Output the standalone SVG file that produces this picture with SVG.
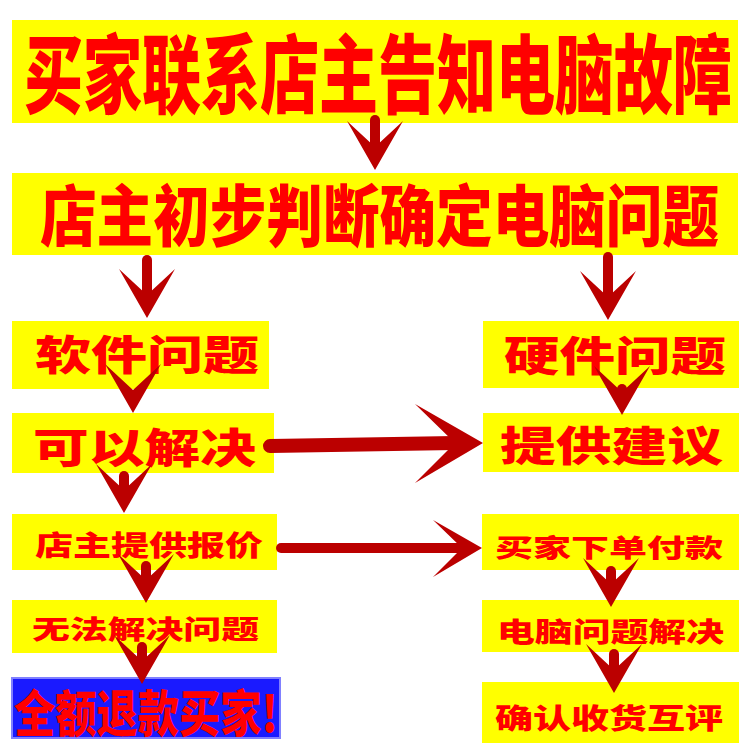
<svg xmlns="http://www.w3.org/2000/svg" width="750" height="750" viewBox="0 0 750 750">
<style>
.box{fill:#ffff00}
.blue{fill:#1a1aff;stroke:#8080ff;stroke-width:2}
.t{font-family:"Noto Sans CJK SC","Noto Sans CJK JP",sans-serif;font-weight:900;fill:#ff0000;dominant-baseline:central}
.ah{fill:#bb0000}
.sh{stroke:#bb0000;stroke-linecap:round;fill:none}
</style>
<defs>
<polygon id="dh" points="-28,-49 0,0 28,-49 0,-23"/>
</defs>
<rect width="750" height="750" fill="#ffffff"/>
<g id="n1"><rect class="box" x="12" y="20" width="726" height="103"/><text class="t" transform="translate(24,69) scale(1,1.47)" x="0" y="0" font-size="59" textLength="708" lengthAdjust="spacingAndGlyphs">买家联系店主告知电脑故障</text></g>
<g id="n2"><rect class="box" x="12" y="173" width="726" height="82"/><text class="t" transform="translate(40,212) scale(1,1.18)" x="0" y="0" font-size="56.6" textLength="679" lengthAdjust="spacingAndGlyphs">店主初步判断确定电脑问题</text></g>
<g id="n3"><rect class="box" x="12" y="321" width="257" height="68"/><text class="t" x="35" y="352" font-size="41" textLength="224" lengthAdjust="spacingAndGlyphs">软件问题</text></g>
<g id="n4"><rect class="box" x="483" y="321" width="256" height="67"/><text class="t" x="504" y="353" font-size="41" textLength="222" lengthAdjust="spacingAndGlyphs">硬件问题</text></g>
<g id="n5"><rect class="box" x="12" y="413" width="262" height="60"/><text class="t" x="33" y="445" font-size="41" textLength="223" lengthAdjust="spacingAndGlyphs">可以解决</text></g>
<g id="n6"><rect class="box" x="483" y="413" width="256" height="59"/><text class="t" x="500" y="443" font-size="41" textLength="223" lengthAdjust="spacingAndGlyphs">提供建议</text></g>
<g id="n7"><rect class="box" x="12" y="514" width="265" height="56"/><text class="t" x="35" y="544" font-size="28" textLength="228" lengthAdjust="spacingAndGlyphs">店主提供报价</text></g>
<g id="n8"><rect class="box" x="482" y="514" width="257" height="56"/><text class="t" x="495" y="546" font-size="25" textLength="228" lengthAdjust="spacingAndGlyphs">买家下单付款</text></g>
<g id="n9"><rect class="box" x="12" y="600" width="265" height="53"/><text class="t" x="32" y="627" font-size="26" textLength="227" lengthAdjust="spacingAndGlyphs">无法解决问题</text></g>
<g id="n10"><rect class="box" x="482" y="600" width="257" height="52"/><text class="t" x="497" y="630" font-size="27" textLength="227" lengthAdjust="spacingAndGlyphs">电脑问题解决</text></g>
<g id="n11"><rect class="blue" x="12" y="678" width="268" height="60"/><text class="t" transform="translate(14,710) scale(1,1.25)" x="0" y="0" font-size="40" textLength="264" lengthAdjust="spacingAndGlyphs">全额退款买家!</text></g>
<g id="n12"><rect class="box" x="482" y="682" width="257" height="61"/><text class="t" x="495" y="717" font-size="28" textLength="228" lengthAdjust="spacingAndGlyphs">确认收货互评</text></g>
<g id="connectors">
<line class="sh" x1="375" y1="120" x2="375" y2="148" stroke-width="10"/>
<use href="#dh" class="ah" transform="translate(375,170)"/>
<line class="sh" x1="147" y1="260" x2="147" y2="296" stroke-width="10"/>
<use href="#dh" class="ah" transform="translate(147,318)"/>
<line class="sh" x1="608" y1="257" x2="608" y2="298" stroke-width="10"/>
<use href="#dh" class="ah" transform="translate(608,320)"/>
<use href="#dh" class="ah" transform="translate(133,413)"/>
<line class="sh" x1="622" y1="389" x2="622" y2="393" stroke-width="10"/>
<use href="#dh" class="ah" transform="translate(622,415)"/>
<line class="sh" x1="124" y1="476" x2="124" y2="490" stroke-width="10"/>
<use href="#dh" class="ah" transform="translate(124,513)"/>
<line class="sh" x1="146" y1="566" x2="146" y2="580" stroke-width="10"/>
<use href="#dh" class="ah" transform="translate(146,603)"/>
<line class="sh" x1="142" y1="647" x2="142" y2="661" stroke-width="10"/>
<use href="#dh" class="ah" transform="translate(142,684)"/>
<line class="sh" x1="611" y1="571" x2="611" y2="584" stroke-width="10"/>
<use href="#dh" class="ah" transform="translate(611,607)"/>
<line class="sh" x1="614" y1="654" x2="614" y2="670" stroke-width="10"/>
<use href="#dh" class="ah" transform="translate(614,693)"/>
<line class="sh" x1="270" y1="446" x2="455" y2="443" stroke-width="14"/>
<polygon class="ah" points="415,404 483,443 415,483 455,443"/>
<line class="sh" x1="281" y1="548" x2="462" y2="548" stroke-width="10"/>
<polygon class="ah" points="433,520 482,548 433,577 462,548"/>
</g>
</svg>
